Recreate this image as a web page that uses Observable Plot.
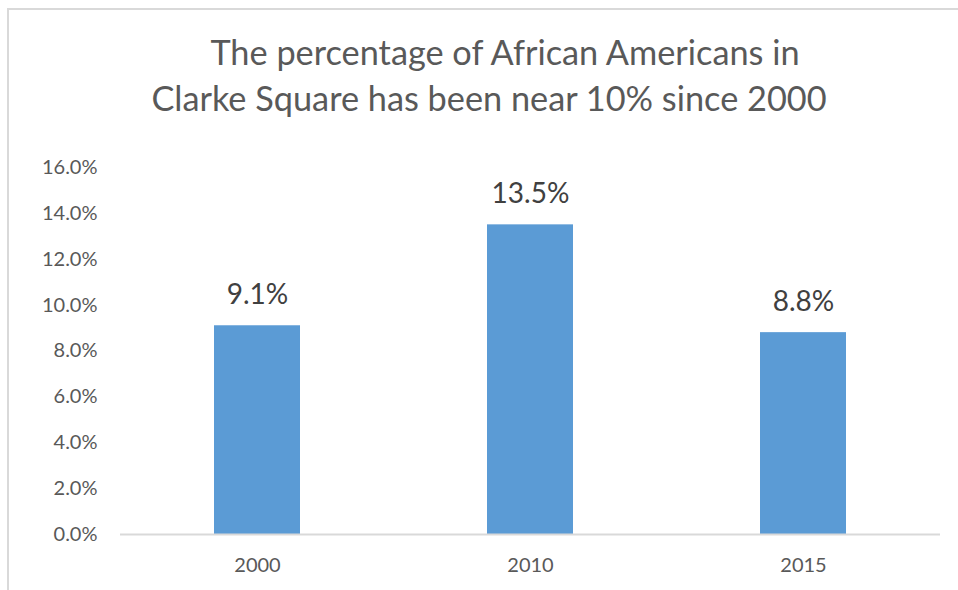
<!DOCTYPE html>
<html>
<head>
<meta charset="utf-8">
<script src="https://cdn.jsdelivr.net/npm/d3@7"></script>
<script src="https://cdn.jsdelivr.net/npm/@observablehq/plot@0.6"></script>
<style>
  html, body { margin: 0; padding: 0; background: #fff; }
  body { width: 958px; height: 590px; position: relative; overflow: hidden; font-family: Lato, "Open Sans", sans-serif; }
  #frame { position: absolute; left: 7px; top: 8px; width: 1000px; height: 700px; border-left: 2px solid #d9d9d9; border-top: 2px solid #d9d9d9; }
  .title { position: absolute; width: 958px; text-align: center; font-size: 34.3px; line-height: 46px; color: #595959; font-family: Lato, sans-serif; white-space: nowrap; }
  #t1 { left: 26px; top: 29px; }
  #t2 { left: 10px; top: 75px; }
  #chart { position: absolute; left: 0; top: 0; }
</style>
</head>
<body>
<div id="frame"></div>
<div class="title" id="t1">The percentage of African Americans in</div>
<div class="title" id="t2">Clarke Square has been near 10% since 2000</div>
<div id="chart"></div>
<script>
const years = ["2000", "2010", "2015"];
const shares = [0.091, 0.135, 0.088];
const yTicks = [0, 0.02, 0.04, 0.06, 0.08, 0.10, 0.12, 0.14, 0.16];

const data = years.map((year, i) => ({year, share: shares[i]}));

const chart = Plot.plot({
  width: 958,
  height: 590,
  marginLeft: 120,
  marginRight: 18,
  marginTop: 167,
  marginBottom: 56,
  style: {background: "transparent", fontFamily: "Lato, sans-serif", fontSize: "20px", color: "#595959"},
  x: {domain: years, paddingInner: 0.685, paddingOuter: 0.3425, label: null},
  y: {domain: [0, 0.16], label: null},
  marks: [
    Plot.axisY({ticks: yTicks, tickFormat: d3.format(".1%"), tickSize: 0, tickPadding: 23, label: null, fontSize: 20, fill: "#595959"}),
    Plot.axisX({tickSize: 0, tickPadding: 23, label: null, fontSize: 20, fill: "#595959"}),
    Plot.barY(data, {x: "year", y: "share", fill: "#5b9bd5"}),
    Plot.ruleY([0], {stroke: "#d9d9d9", strokeWidth: 2}),
    Plot.text(data, {x: "year", y: "share", text: d => d3.format(".1%")(d.share), dy: -31, fontSize: 28, fill: "#404040", lineAnchor: "middle"})
  ]
});
document.getElementById("chart").appendChild(chart);
</script>
</body>
</html>
